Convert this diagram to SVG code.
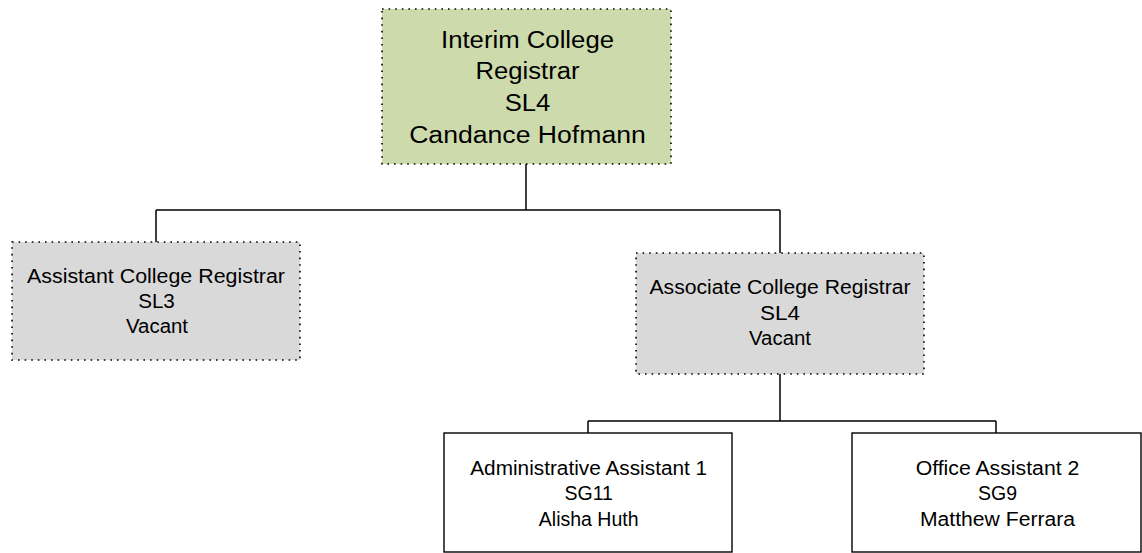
<svg xmlns="http://www.w3.org/2000/svg" width="1142" height="553" viewBox="0 0 1142 553">
<style>
.dot{stroke:#000;stroke-width:1.6;stroke-dasharray:1.6 5;}
.solid{fill:#fff;stroke:#000;stroke-width:1.4;}
.c{fill:none;stroke:#000;stroke-width:1.5;}
text{font-family:"Liberation Sans",Arial,sans-serif;fill:#000;text-anchor:middle;}
.big{font-size:23px;}
.sm{font-size:19.5px;}
</style>
<rect width="1142" height="553" fill="#fff"/>
<g id="connectors">
<path class="c" d="M526 164V210M156 210H780M156 210V242M780 210V253"/>
<path class="c" d="M780 374V421M588 421H996M588 421V433M996 421V433"/>
</g>
<g id="n-registrar">
<rect x="382" y="9" width="289" height="155" fill="#cddbac" class="dot"/>
<text class="big" x="527.5" y="47.7" textLength="173" lengthAdjust="spacingAndGlyphs">Interim College</text>
<text class="big" x="527.5" y="79.4" textLength="104" lengthAdjust="spacingAndGlyphs">Registrar</text>
<text class="big" x="527.5" y="111" textLength="45.7" lengthAdjust="spacingAndGlyphs">SL4</text>
<text class="big" x="527.5" y="142.7" textLength="236.7" lengthAdjust="spacingAndGlyphs">Candance Hofmann</text>
</g>
<g id="n-assistant">
<rect x="12" y="242" width="288" height="118" fill="#d9d9d9" class="dot"/>
<text class="sm" x="156" y="283.3" textLength="258" lengthAdjust="spacingAndGlyphs">Assistant College Registrar</text>
<text class="sm" x="156.5" y="308.3" textLength="36.7" lengthAdjust="spacingAndGlyphs">SL3</text>
<text class="sm" x="157" y="333.3" textLength="62" lengthAdjust="spacingAndGlyphs">Vacant</text>
</g>
<g id="n-associate">
<rect x="636" y="253" width="288" height="121" fill="#d9d9d9" class="dot"/>
<text class="sm" x="780" y="294.3" textLength="261" lengthAdjust="spacingAndGlyphs">Associate College Registrar</text>
<text class="sm" x="780" y="319.6" textLength="40" lengthAdjust="spacingAndGlyphs">SL4</text>
<text class="sm" x="780" y="344.9" textLength="62" lengthAdjust="spacingAndGlyphs">Vacant</text>
</g>
<g id="n-admin">
<rect x="444" y="433" width="288" height="119" class="solid"/>
<text class="sm" x="588.7" y="475" textLength="237" lengthAdjust="spacingAndGlyphs">Administrative Assistant 1</text>
<text class="sm" x="588.7" y="500.3">SG11</text>
<text class="sm" x="588.7" y="525.6">Alisha Huth</text>
</g>
<g id="n-office">
<rect x="852" y="433" width="289" height="119" class="solid"/>
<text class="sm" x="997.5" y="475" textLength="163.7" lengthAdjust="spacingAndGlyphs">Office Assistant 2</text>
<text class="sm" x="997.5" y="500.3">SG9</text>
<text class="sm" x="997.5" y="525.6" textLength="155" lengthAdjust="spacingAndGlyphs">Matthew Ferrara</text>
</g>
</svg>
